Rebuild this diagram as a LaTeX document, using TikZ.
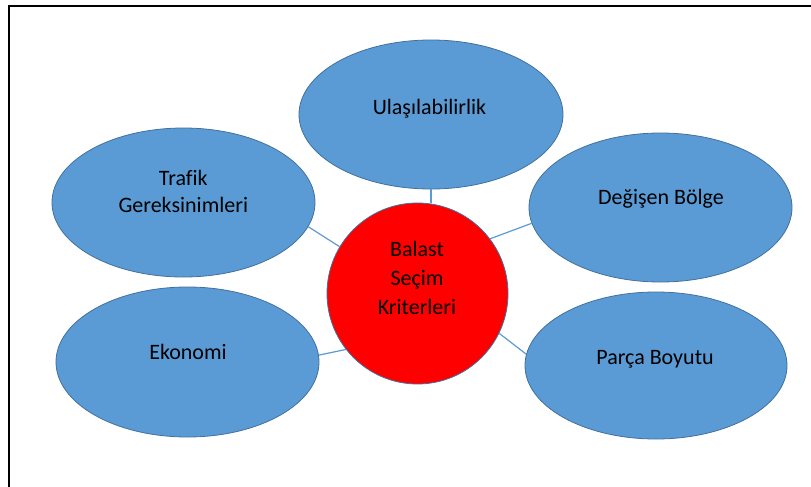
\documentclass[tikz,border=0pt]{standalone}
\usepackage{fontspec}
\setmainfont[Ligatures=CommonOff]{Carlito}
\usetikzlibrary{shapes.geometric}
\definecolor{obl}{HTML}{5B9BD5}
\definecolor{obd}{HTML}{41719C}
\begin{document}
\begin{tikzpicture}[x=1pt,y=-1pt,
  bub/.style={ellipse,draw=obd,fill=obl,line width=0.8pt,inner sep=0pt,minimum width=263pt,minimum height=149pt},
  hub/.style={circle,draw=obd,fill=red,line width=0.8pt,inner sep=0pt,minimum size=181pt},
  lbl/.style={align=center,text=black,inner sep=0pt,font=\fontsize{22}{27}\selectfont},
  conn/.style={draw=obl,line width=1.2pt}]
\useasboundingbox (0,0) rectangle (811,487);
\fill[white] (0,0) rectangle (811,487);
\draw[line width=2pt] (9,487) -- (9,6) -- (811,6);
% bubbles
\node[bub,minimum width=264pt] (u) at (431,114.5) {};
\node[bub] (t) at (183.5,202.5) {};
\node[bub] (d) at (660.5,207.5) {};
\node[bub,minimum height=150pt] (e) at (187.5,362) {};
\node[bub,minimum width=262pt,minimum height=147pt] (p) at (656,365.5) {};
\node[hub] (c) at (417.5,293.5) {};
% connectors
\draw[conn] (u.south) -- (u.south |- c.82);
\draw[conn] (t.-11) -- (c.149);
\draw[conn] (d.-173) -- (c.37);
\draw[conn] (e.3.5) -- (c.-142);
\draw[conn] (p.175) -- (c.-26);
% labels
\node[lbl] (ut) at (429.5,109) {Ulaşılabilirlik};
\node[lbl] (tt) at (183.3,191.8) {Trafik\\Gereksinimleri};
\node[lbl] (dt) at (661,198.5) {Değişen Bölge};
\node[lbl] (et) at (188,352.3) {Ekonomi};
\node[lbl] (pt) at (655,359) {Parça Boyutu};
\node[lbl,font=\fontsize{22}{29}\selectfont] (ct) at (417,278.3) {Balast\\Seçim\\Kriterleri};
\end{tikzpicture}
\end{document}
